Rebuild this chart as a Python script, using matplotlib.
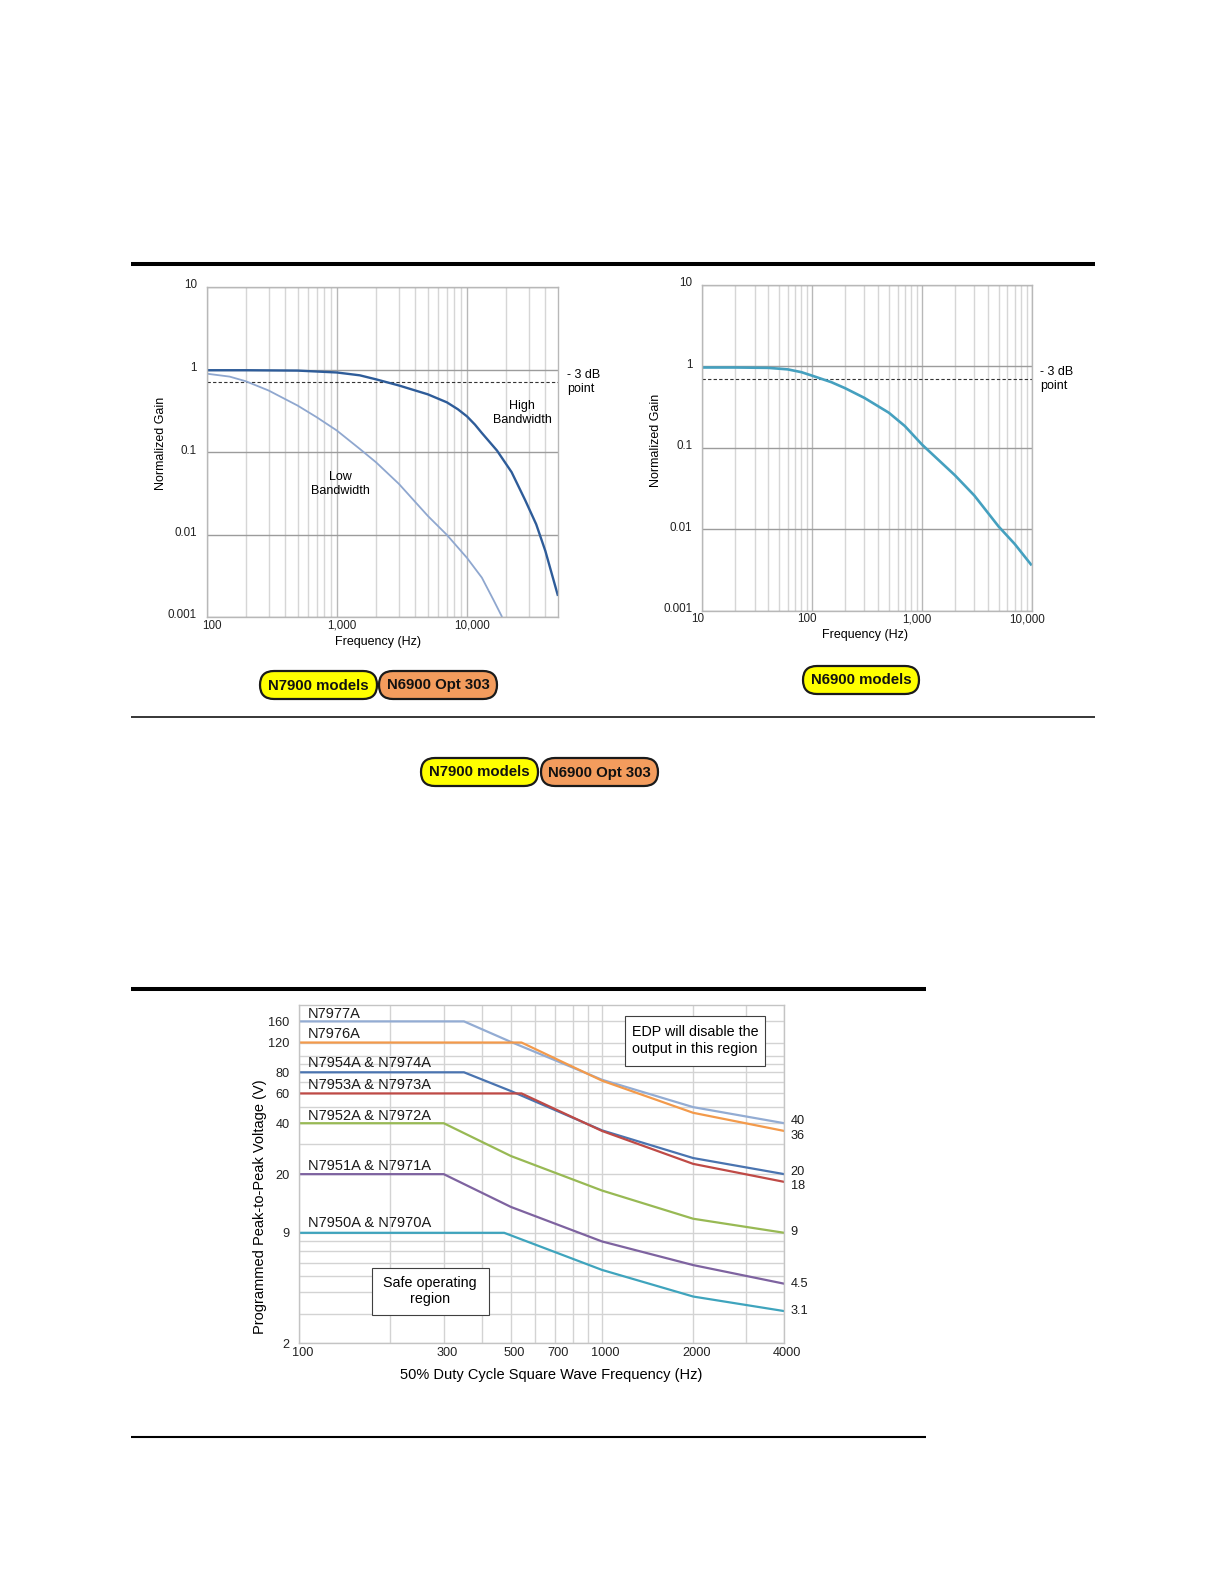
import matplotlib
matplotlib.use("Agg")
import matplotlib.pyplot as plt
import matplotlib.transforms as mtransforms
from matplotlib.patches import FancyBboxPatch, Rectangle
from matplotlib.ticker import NullFormatter, NullLocator

plt.rcParams['font.family'] = ['Liberation Sans', 'DejaVu Sans']

W, H = 1224, 1584

# --- data: N7900 / N6900 Opt 303 gain (left chart)
hb_freq = [100, 200, 500, 1000, 1500, 2000, 3000, 5000, 7000, 8500, 10000, 11500,
           13000, 17000, 22000, 28000, 34000, 40000, 50000]
hb_gain = [0.98, 0.98, 0.97, 0.92, 0.85, 0.76, 0.64, 0.50, 0.40, 0.33, 0.27, 0.215,
           0.17, 0.104, 0.057, 0.026, 0.0133, 0.0063, 0.0018]
lb_freq = [100, 150, 200, 300, 500, 700, 1000, 1500, 2000, 3000, 5000, 7000,
           10000, 13000, 16000, 18600]
lb_gain = [0.89, 0.82, 0.72, 0.555, 0.365, 0.264, 0.182, 0.109, 0.075, 0.041,
           0.0168, 0.0099, 0.0052, 0.003, 0.0016, 0.001]

# --- data: N6900 gain (right chart)
n69_freq = [10, 20, 40, 60, 80, 100, 150, 200, 300, 500, 700, 1000, 2000, 3000,
            5000, 7000, 10000]
n69_gain = [0.97, 0.97, 0.96, 0.92, 0.85, 0.77, 0.64, 0.54, 0.41, 0.27, 0.185,
            0.11, 0.046, 0.026, 0.0108, 0.0066, 0.0036]

gain_ticks = [0.001, 0.01, 0.1, 1, 10]
gain_labels = ['0.001', '0.01', '0.1', '1', '10']

# --- data: EDP limits (bottom chart)
edp_names = ['N7977A', 'N7976A', 'N7954A & N7974A', 'N7953A & N7973A',
             'N7952A & N7972A', 'N7951A & N7971A', 'N7950A & N7970A']
edp_freq = [
    [100, 350, 500, 1000, 2000, 4000],
    [100, 542, 1000, 2000, 4000],
    [100, 350, 500, 1000, 2000, 4000],
    [100, 542, 1000, 2000, 4000],
    [100, 300, 500, 1000, 2000, 4000],
    [100, 300, 500, 1000, 2000, 4000],
    [100, 475, 1000, 2000, 4000],
]
edp_volt = [
    [160, 160, 121, 72.3, 49.8, 40],
    [120, 120, 71.4, 46.1, 36],
    [80, 80, 62, 36.3, 24.9, 20],
    [60, 60, 36, 23, 18],
    [40, 40, 25.6, 16, 10.9, 9],
    [20, 20, 12.8, 8, 5.8, 4.5],
    [9, 9, 5.43, 3.78, 3.1],
]
edp_colors = ['#93acd3', '#f39a4b', '#4a74b0', '#bf4a46', '#98b954', '#7e63a0', '#3fa4bd']
edp_label_y = [178, 134, 90.4, 67.3, 44.3, 22.3, 10.24]
end_labels = ['40', '36', '20', '18', '9', '4.5', '3.1']
end_label_y = [41.2, 33.7, 20.7, 17.0, 9.06, 4.48, 3.12]
freq_ticks = [100, 300, 500, 700, 1000, 2000, 4000]
freq_minor = [200, 400, 600, 800, 900, 3000]
volt_ticks = [2, 9, 20, 40, 60, 80, 120, 160]
volt_minor = [3, 4, 5, 6, 7, 8, 30, 50, 70, 90, 100]

fig = plt.figure(figsize=(W / 100, H / 100), dpi=100)


def rect(l, t, r, b):
    return [l / W, 1 - b / H, (r - l) / W, (b - t) / H]


def shift(labels, dx, dy):
    off = mtransforms.ScaledTranslation(dx / 100, dy / 100, fig.dpi_scale_trans)
    for lab in labels:
        lab.set_transform(lab.get_transform() + off)


def gain_axes(ax, xlim, xmajor, xlabels, xminor):
    ax.set_xscale('log')
    ax.set_yscale('log')
    ax.set_xlim(*xlim)
    ax.set_ylim(0.001, 10)
    ax.set_xticks(xmajor)
    ax.set_xticklabels(xlabels)
    ax.set_xticks(xminor, minor=True)
    ax.xaxis.set_minor_formatter(NullFormatter())
    ax.set_yticks(gain_ticks)
    ax.set_yticklabels(gain_labels)
    ax.yaxis.set_minor_locator(NullLocator())
    ax.tick_params(which='both', length=0, labelsize=8.4, labelcolor='#222222')
    ax.tick_params(axis='y', pad=7)
    ax.tick_params(axis='x', pad=2)
    ax.grid(True, axis='x', which='minor', color='#d6d6d6', lw=1)
    ax.grid(True, axis='x', which='major', color='#b8b8b8', lw=1)
    ax.grid(True, axis='y', which='major', color='#9c9c9c', lw=1)
    for s in ax.spines.values():
        s.set_color('#b8b8b8')
        s.set_linewidth(1)
    ax.axhline(0.707, color='#333333', lw=0.8, ls=(0, (3, 2)))
    ax.set_ylabel('Normalized Gain', fontsize=9)
    ax.set_xlabel('Frequency (Hz)', fontsize=9)
    ax.text(1.025, 0.707, '- 3 dB\npoint', transform=ax.get_yaxis_transform(),
            ha='left', va='center', fontsize=9, linespacing=1.25)


# left chart
ax1 = fig.add_axes(rect(206.7, 287, 558, 617))
gain_axes(ax1, (100, 50000), [100, 1000, 10000], ['100', '1,000', '10,000'],
          [200, 300, 400, 500, 600, 700, 800, 900, 2000, 3000, 4000, 5000, 6000,
           7000, 8000, 9000, 20000, 30000, 40000])
ax1.plot(lb_freq, lb_gain, color='#8fa7cf', lw=1.3, solid_capstyle='butt')
ax1.plot(hb_freq, hb_gain, color='#2e5c99', lw=1.7, solid_capstyle='butt')
ax1.text(26500, 0.30, 'High\nBandwidth', ha='center', va='center', fontsize=9, linespacing=1.25)
ax1.text(1060, 0.041, 'Low\nBandwidth', ha='center', va='center', fontsize=9, linespacing=1.25)
ax1.yaxis.set_label_coords(-0.114, 0.527)
ax1.xaxis.set_label_coords(0.488, -0.058)
shift(ax1.get_xticklabels(), 5, 0)
shift(ax1.get_yticklabels(), 0, 3)

# right chart
ax2 = fig.add_axes(rect(702.3, 285, 1031.7, 610.7))
gain_axes(ax2, (10, 10000), [10, 100, 1000, 10000], ['10', '100', '1,000', '10,000'],
          [20, 30, 40, 50, 60, 70, 80, 90, 200, 300, 400, 500, 600, 700, 800, 900,
           2000, 3000, 4000, 5000, 6000, 7000, 8000, 9000])
ax2.plot(n69_freq, n69_gain, color='#45a0bf', lw=1.9, solid_capstyle='butt')
ax2.yaxis.set_label_coords(-0.122, 0.524)
ax2.xaxis.set_label_coords(0.494, -0.056)
shift(ax2.get_xticklabels(), -5, 0)
shift(ax2.get_yticklabels(), 0, 3)

# bottom chart
ax3 = fig.add_axes(rect(299.3, 1005, 784.3, 1343.3))
ax3.set_xscale('log')
ax3.set_yscale('log')
ax3.set_xlim(100, 4000)
ax3.set_ylim(2, 200)
ax3.set_xticks(freq_ticks)
ax3.set_xticklabels([str(v) for v in freq_ticks])
ax3.set_xticks(freq_minor, minor=True)
ax3.xaxis.set_minor_formatter(NullFormatter())
ax3.set_yticks(volt_ticks)
ax3.set_yticklabels([str(v) for v in volt_ticks])
ax3.set_yticks(volt_minor, minor=True)
ax3.yaxis.set_minor_formatter(NullFormatter())
ax3.tick_params(which='both', length=0, labelsize=9.2, labelcolor='#222222')
ax3.tick_params(axis='y', pad=7)
ax3.tick_params(axis='x', pad=3)
ax3.grid(True, which='both', color='#d3d3d3', lw=1)
for s in ax3.spines.values():
    s.set_color('#c4c4c4')
    s.set_linewidth(1)

for name, fx, vy, col, ly in zip(edp_names, edp_freq, edp_volt, edp_colors, edp_label_y):
    ax3.plot(fx, vy, color=col, lw=1.6)
    ax3.text(107, ly, name, ha='left', va='center', fontsize=10.5, color='#1a1a1a')

for lab, ly in zip(end_labels, end_label_y):
    ax3.text(1.0128, ly, lab, transform=ax3.get_yaxis_transform(), ha='left',
             va='center', fontsize=9.2, color='#1a1a1a')

ax3.add_patch(Rectangle((0.672, 0.820), 0.288, 0.148, transform=ax3.transAxes,
                        fc='white', ec='#404040', lw=0.8, zorder=5))
ax3.text(0.816, 0.895, 'EDP will disable the\noutput in this region', transform=ax3.transAxes,
         ha='center', va='center', fontsize=10.3, linespacing=1.2, zorder=6)
ax3.add_patch(Rectangle((0.149, 0.085), 0.243, 0.137, transform=ax3.transAxes,
                        fc='white', ec='#404040', lw=0.8, zorder=5))
ax3.text(0.270, 0.154, 'Safe operating\nregion', transform=ax3.transAxes,
         ha='center', va='center', fontsize=10.3, linespacing=1.2, zorder=6)

ax3.set_ylabel('Programmed Peak-to-Peak Voltage (V)', fontsize=10.5)
ax3.set_xlabel('50% Duty Cycle Square Wave Frequency (Hz)', fontsize=10.5)
ax3.yaxis.set_label_coords(-0.066, 0.404)
ax3.xaxis.set_label_coords(0.52, -0.073)
shift(ax3.get_xticklabels(), 3, 0)

# page overlay: rules and model badges, in pixel units
ov = fig.add_axes([0, 0, 1, 1])
ov.set_xlim(0, W)
ov.set_ylim(H, 0)
ov.axis('off')

ov.plot([131, 1095], [264, 264], color='black', lw=2.9, solid_capstyle='butt')
ov.plot([131, 1095], [717, 717], color='black', lw=1.1, solid_capstyle='butt')
ov.plot([131, 926], [989, 989], color='black', lw=2.9, solid_capstyle='butt')
ov.plot([131, 926], [1437, 1437], color='black', lw=1.5, solid_capstyle='butt')


def badge(x0, y0, x1, y1, text, color):
    h = y1 - y0
    ov.add_patch(FancyBboxPatch((x0, y0), x1 - x0, h,
                                boxstyle=f"round,pad=0,rounding_size={h / 2}",
                                fc=color, ec='#1a1a1a', lw=1.6))
    ov.text((x0 + x1) / 2, (y0 + y1) / 2 + 0.5, text, ha='center', va='center',
            fontsize=10.8, fontweight='bold', color='#111111')


YELLOW = '#ffff00'
ORANGE = '#f39c5d'
badge(260, 671, 377, 699, 'N7900 models', YELLOW)
badge(379, 671, 497, 699, 'N6900 Opt 303', ORANGE)
badge(803, 666, 919, 694, 'N6900 models', YELLOW)
badge(421, 758, 538, 786, 'N7900 models', YELLOW)
badge(541, 758, 658, 786, 'N6900 Opt 303', ORANGE)

fig.savefig('out.png', dpi=100, facecolor='white')
